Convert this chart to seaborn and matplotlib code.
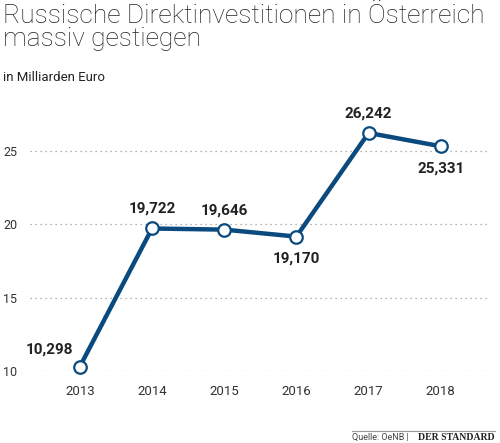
import seaborn as sns
import matplotlib.pyplot as plt
import pandas as pd

# Daten: Russische Direktinvestitionen in Österreich (Mrd. Euro)
jahre = [2013, 2014, 2015, 2016, 2017, 2018]
werte = [10.298, 19.722, 19.646, 19.170, 26.242, 25.331]
beschriftung = ['10,298', '19,722', '19,646', '19,170', '26,242', '25,331']
y_ticks = [10, 15, 20, 25]

df = pd.DataFrame({'jahr': jahre, 'wert': werte})

blau = '#0b4a7e'
grau = '#333333'

sns.set_style('white')
plt.rcParams['font.family'] = ['Roboto', 'DejaVu Sans']

fig = plt.figure(figsize=(5, 4.43), dpi=100)
ax = fig.add_axes([0.06, 0.1625, 0.914, 0.589])

sns.lineplot(data=df, x='jahr', y='wert', ax=ax, color=blau, linewidth=3.2,
             marker='o', markersize=9, markerfacecolor='white',
             markeredgecolor=blau, markeredgewidth=1.6, clip_on=False, zorder=3)

ax.set_xlim(2012.31, 2018.64)
ax.set_ylim(10, 27.8)
ax.set_yticks(y_ticks)
ax.set_xticks(jahre)
ax.set_xticklabels([str(j) for j in jahre])
ax.set_xlabel('')
ax.set_ylabel('')
for v in y_ticks:
    ax.axhline(v, color='#999999', linestyle=(0, (1, 3)), linewidth=0.9, zorder=1)
sns.despine(ax=ax, left=True, bottom=True)
ax.tick_params(axis='y', length=0, pad=9, labelsize=9, labelcolor=grau)
ax.tick_params(axis='x', length=0, pad=10, labelsize=9.5, labelcolor=grau)

# Wertbeschriftungen
versatz = [(-22, 12), (0, 14), (0, 14), (0, -16), (0, 14), (0, -16)]
for j, w, t, (dx, dy) in zip(jahre, werte, beschriftung, versatz):
    ax.annotate(t, (j, w), xytext=(dx, dy), textcoords='offset points',
                ha='center', va='center', fontsize=11, fontweight='bold',
                color='#222222')

fig.text(0.006, 0.99, 'Russische Direktinvestitionen in Österreich\nmassiv gestiegen',
         ha='left', va='top', fontsize=19, fontweight='light', color='#222222',
         linespacing=0.95)
fig.text(0.006, 0.825, 'in Milliarden Euro', ha='left', va='center',
         fontsize=9.5, color='#222222')

# Quelle
fig.add_artist(plt.Line2D([0.703, 0.99], [0.028, 0.028], color='#999999', linewidth=0.8))
fig.text(0.818, 0.012, 'Quelle: OeNB |', ha='right', va='center', fontsize=6.5, color='#444444')
fig.text(0.99, 0.012, 'DER STANDARD', ha='right', va='center', fontsize=7,
         family='Liberation Serif', fontweight='bold', color='#222222')

fig.savefig('out.png', dpi=100)
